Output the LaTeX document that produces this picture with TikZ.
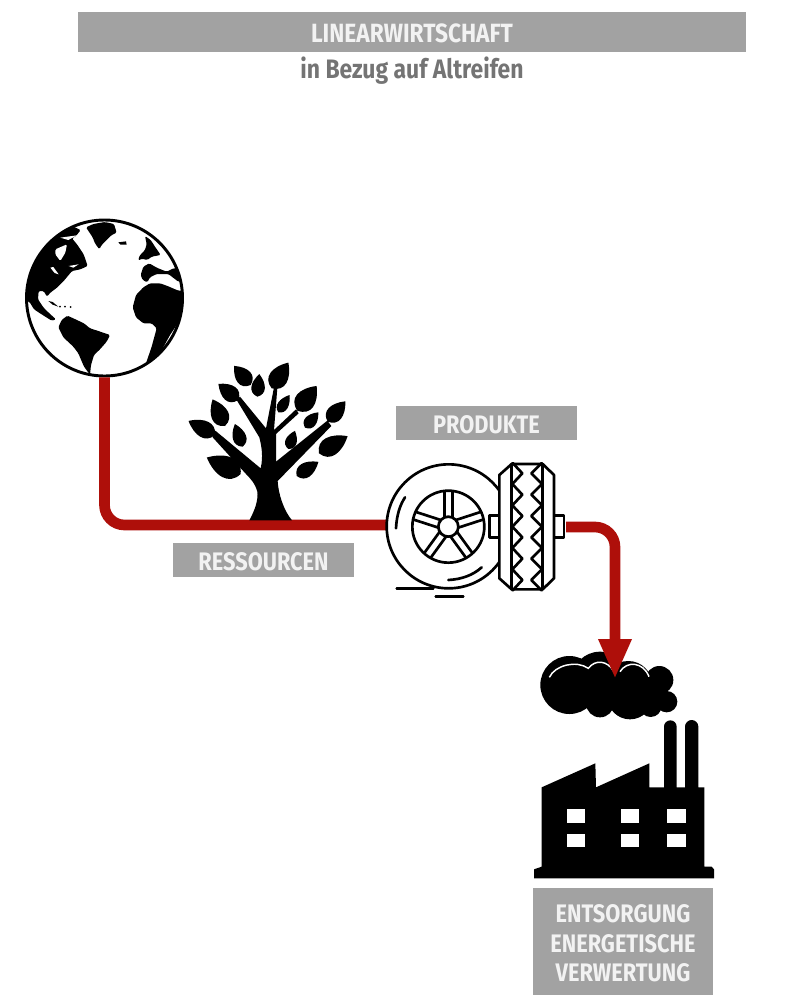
\documentclass[tikz,border=0pt]{standalone}
\usepackage{fontspec}
\usetikzlibrary{arrows.meta}
\newfontfamily\labelfont{Fira Sans}[FakeStretch=0.86]
\definecolor{bargray}{HTML}{A2A2A2}
\definecolor{subgray}{HTML}{747474}
\definecolor{flowred}{HTML}{AE0F0A}
\tikzset{
  bartext/.style={text=white!95!black, inner sep=0pt, align=center,
    font=\labelfont\bfseries\fontsize{19}{22.2}\selectfont},
  graybar/.style={bartext, fill=bargray},
  flowline/.style={draw=flowred, line width=8pt, rounded corners=15pt},
  tyreline/.style={line width=2pt, line cap=round, line join=round},
}
\begin{document}
\begin{tikzpicture}[x=0.75pt, y=-0.75pt]
  \useasboundingbox (0,0) rectangle (800,1000);
  % labels
  \node[graybar, minimum width=501pt, minimum height=30pt] (titlebar) at (412,32) {};
  \node[bartext, font=\labelfont\bfseries\fontsize{19.8}{22.2}\selectfont] (title) at (412,33.5) {LINEARWIRTSCHAFT};
  \node[text=subgray, inner sep=0pt, font=\labelfont\bfseries\fontsize{20}{24}\selectfont] (subtitle) at (412,71) {in Bezug auf Altreifen};
  \node[graybar, minimum width=136pt, minimum height=25.5pt] (ressourcenbar) at (263.5,560) {};
  \node[bartext] (ressourcen) at (263.5,561.5) {RESSOURCEN};
  \node[graybar, minimum width=136pt, minimum height=25.5pt] (produktebar) at (486.5,423) {};
  \node[bartext] (produkte) at (486.5,424.5) {PRODUKTE};
  \node[graybar, minimum width=135pt, minimum height=80pt] (entsorgungbar) at (623,941.5) {};
  \node[bartext] (entsorgung) at (623,943.5) {ENTSORGUNG\\ENERGETISCHE\\VERWERTUNG};
  % globe
  \node[circle, draw, line width=2.2pt, minimum size=117pt, inner sep=0pt] (globe) at (104.5,298) {};
  \coordinate (tyreleft) at (388,525);
  \coordinate (tyreright) at (566,527);
  \coordinate (cloudtip) at (615,679);
  \begin{scope}[shift={(10,200)}, scale=1/3]
    \clip (284,295) circle (236);
    % north america
    \fill[rounded corners=1pt] (36,300) -- (40,262) -- (51,215) -- (86,143) -- (136,98) -- (186,78) -- (212,90) -- (198,108) -- (186,115) -- (201,133) -- (221,163) -- (233,198) -- (211,208) -- (186,213) -- (161,243) -- (141,263) -- (121,278) -- (111,290) -- (101,273) -- (86,273) -- (84,298) -- (100,322) -- (118,340) -- (138,358) -- (125,362) -- (98,345) -- (72,328) -- (58,305) -- cycle;
    \fill[white, rounded corners=1pt] (136,148) -- (171,133) -- (166,158) -- (151,183) -- (136,163) -- cycle;
    \fill[white] (121,203) -- (130,201) -- (146,223) -- (134,219) -- cycle;
    \fill[white] (176,198) -- (206,193) -- (190,203) -- cycle;
    \fill[white] (151,113) -- (201,106) -- (175,120) -- cycle;
    % greenland and iceland
    \fill[rounded corners=1pt] (228,82) -- (250,72) -- (285,66) -- (312,72) -- (320,98) -- (305,105) -- (292,118) -- (275,135) -- (268,148) -- (255,130) -- (248,112) -- cycle;
    \fill (325,127) -- (348,124) -- (350,134) -- (332,134) -- cycle;
    % central and south america
    \fill (115,303) -- (128,306) -- (145,320) -- (128,314) -- cycle;
    \foreach \islx/\isly in {150/320,165/320,182/321}
      \fill (\islx,\isly) circle (3);
    \fill[rounded corners=1pt] (145,382) -- (155,360) -- (172,347) -- (190,355) -- (222,370) -- (240,385) -- (262,392) -- (300,405) -- (290,425) -- (270,448) -- (252,465) -- (243,495) -- (240,524) -- (222,500) -- (205,460) -- (190,440) -- (160,412) -- cycle;
    % europe and africa
    \fill[rounded corners=1pt] (405,108) -- (422,120) -- (435,140) -- (452,165) -- (425,170) -- (412,180) -- (395,176) -- (385,182) -- (388,168) -- (405,150) -- (410,132) -- cycle;
    \fill[rounded corners=1pt] (392,225) -- (400,200) -- (418,190) -- (440,203) -- (470,215) -- (490,205) -- (530,205) -- (530,245) -- (505,245) -- (475,222) -- (440,222) -- (420,232) -- (412,247) -- (398,240) -- cycle;
    \fill[rounded corners=1pt] (368,322) -- (378,285) -- (400,262) -- (420,250) -- (450,250) -- (470,257) -- (505,272) -- (530,272) -- (530,320) -- (500,375) -- (480,405) -- (450,460) -- (408,490) -- (425,440) -- (440,385) -- (425,370) -- (400,370) -- (378,352) -- cycle;
  \end{scope}
  \draw[flowline] (globe.south) |- (tyreleft);
  % tree
  \begin{scope}[shift={(170,350)}, scale=1/3]
    \fill (238,511) .. controls (255,480) and (265,450) .. (262,425) .. controls (255,400) and (245,390) .. (228,372) -- (128,262) -- (136,242) -- (272,355) .. controls (280,320) and (275,290) .. (268,262) -- (200,150) -- (210,140) -- (288,235) -- (312,112) -- (322,114) -- (312,240) -- (378,178) -- (386,190) -- (318,252) .. controls (318,280) and (318,310) .. (318,335) -- (472,212) -- (484,228) -- (323,393) .. controls (325,430) and (340,480) .. (366,511) -- cycle;
    \foreach \lx/\ly/\lrot/\llen/\lwid in {305/115/57/92/28, 262/140/85/68/20, 242/105/131/76/24, 205/150/141/77/24, 165/228/115/88/26, 135/255/152/90/25, 218/290/109/72/20, 212/372/154/113/32, 325/187/57/62/16, 382/182/52/94/30, 405/233/49/61/18, 473/215/49/81/24, 355/297/70/58/17, 447/310/31/100/28, 380/378/33/78/22}
      \fill[shift={(\lx,\ly)}, rotate=\lrot] (0,0) .. controls (0.15*\llen,1.45*\lwid) and (0.6*\llen,1.25*\lwid) .. (\llen,0) .. controls (0.6*\llen,-1.25*\lwid) and (0.15*\llen,-1.45*\lwid) .. (0,0);
  \end{scope}
  % tyre
  \begin{scope}[shift={(370,450)}, scale=1/3, tyreline]
    \begin{scope}
      \clip (0,0) rectangle (388,460);
      \fill[white] (236,229) circle (186);
      \draw (236,229) circle (186);
    \end{scope}
    \draw (235,230) circle (108);
    \draw (235,230) circle (30);
    \foreach \spoke in {90,18,-54,-126,-198} {
      \draw[rotate around={\spoke:(235,230)}] (263,218) -- (340,218);
      \draw[rotate around={\spoke:(235,230)}] (263,242) -- (340,242);
    }
    \draw (105,142) .. controls (90,165) and (80,195) .. (78,235);
    \draw (235,390) .. controls (275,388) and (310,375) .. (335,352);
    \draw (80,415) -- (190,415);
    \draw (197,440) -- (280,440);
    \draw[fill=white] (358,197) rectangle (388,262);
    \draw[fill=white] (552,197) rectangle (582,262);
    \draw[fill=white] (388,75) -- (425,42) -- (518,42) -- (552,75) -- (552,385) -- (518,418) -- (425,418) -- (388,385) -- cycle;
    \draw (425,42) -- (425,418);
    \draw (518,42) -- (518,418);
    \foreach \tooth in {70,134,198,262,326,390} {
      \draw (428,\tooth-31) -- (457,\tooth) -- (428,\tooth+31);
      \draw (515,\tooth-31) -- (484,\tooth) -- (515,\tooth+31);
    }
  \end{scope}
  % cloud and factory
  \begin{scope}[shift={(520,630)}, scale=1/3]
    \fill (148,165) circle (87) (240,150) circle (85) (325,165) circle (72) (330,200) circle (68) (385,175) circle (50) (418,150) circle (42) (440,215) circle (32) (392,228) circle (33) (240,220) circle (42);
    \draw[white, line width=1.1pt] (88,142) .. controls (105,105) and (170,90) .. (205,115) .. controls (225,88) and (262,90) .. (282,125);
    \draw[white, line width=1.1pt] (300,125) .. controls (320,92) and (370,95) .. (387,140);
    \fill (42,745) -- (42,718) -- (65,710) -- (65,472) -- (226,400) -- (228,472) -- (388,400) -- (388,472) -- (432,472) -- (432,290) arc (180:360:19) -- (470,472) -- (495,472) -- (495,290) arc (180:360:20) -- (535,472) -- (553,472) -- (553,710) -- (575,710) -- (582,718) -- (582,745) -- cycle;
    \foreach \wx in {140,303,442}
      \foreach \wy in {538,611}
        \fill[white] (\wx,\wy) rectangle ++(55,41);
  \end{scope}
  \draw[flowline, -{Triangle[length=30pt, width=23pt]}] (tyreright) -| (cloudtip);
\end{tikzpicture}
\end{document}
